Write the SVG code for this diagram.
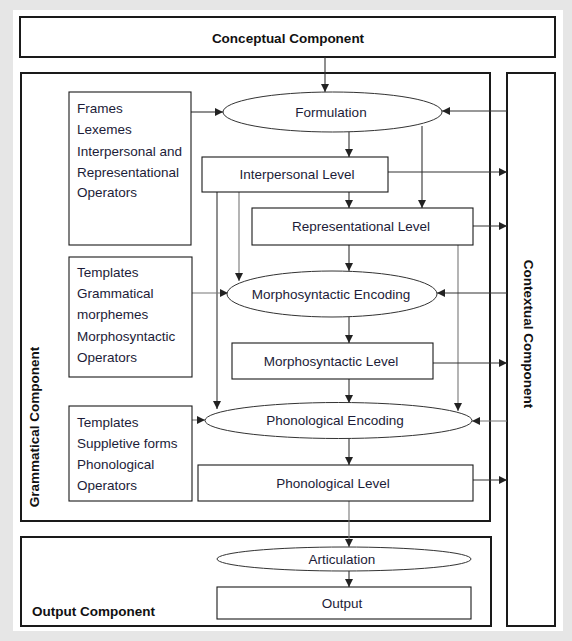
<svg xmlns="http://www.w3.org/2000/svg" width="572" height="641" viewBox="0 0 572 641">
<style>
.bg{fill:#e6e6e6}
.outer{fill:none;stroke:#1a1a1a;stroke-width:2}
.box{fill:#fff;stroke:#1a1a1a;stroke-width:1.1}
.ell{fill:#fff;stroke:#333;stroke-width:1}
.t{font-family:"Liberation Sans",Arial,sans-serif;font-size:13.5px;fill:#1c1c38}
.c{text-anchor:middle}
.b{font-family:"Liberation Sans",Arial,sans-serif;font-size:13.5px;font-weight:bold;fill:#111}
.conn{fill:none;stroke:#333;stroke-width:1.1}
.conn2{fill:none;stroke:#777;stroke-width:1.1}
</style>
<defs>
<marker id="ah" viewBox="0 0 10 10" refX="10" refY="5" markerWidth="9" markerHeight="8" markerUnits="userSpaceOnUse" orient="auto">
<path d="M0,0 L10,5 L0,10 z" fill="#222"/>
</marker>
</defs>
<rect class="bg" x="0" y="0" width="572" height="641"/>
<rect x="13" y="10" width="550" height="621" fill="#fff"/>

<g id="conceptual">
<rect class="outer" x="20" y="17" width="535" height="40"/>
<text class="b c" x="288" y="43">Conceptual Component</text>
</g>
<g id="grammatical">
<rect class="outer" x="21" y="73" width="469" height="448"/>
<text class="b c" transform="translate(39,427) rotate(-90)">Grammatical Component</text>
</g>
<g id="contextual">
<rect class="outer" x="507" y="73" width="48" height="553"/>
<text class="b c" transform="translate(524,334) rotate(90)">Contextual Component</text>
</g>
<g id="output-component">
<rect class="outer" x="21" y="537" width="470" height="89"/>
<text class="b" x="32" y="616">Output Component</text>
</g>

<g id="connectors">
<line class="conn" x1="325" y1="57" x2="325" y2="92" marker-end="url(#ah)"/>
<line class="conn" x1="191" y1="112" x2="223" y2="112" marker-end="url(#ah)"/>
<line class="conn" x1="507" y1="111" x2="442" y2="111" marker-end="url(#ah)"/>
<line class="conn" x1="349" y1="132" x2="349" y2="157" marker-end="url(#ah)"/>
<line class="conn" x1="422" y1="126" x2="422" y2="208" marker-end="url(#ah)"/>
<line class="conn" x1="388" y1="172" x2="507" y2="172" marker-end="url(#ah)"/>
<line class="conn" x1="349" y1="192" x2="349" y2="208" marker-end="url(#ah)"/>
<line class="conn" x1="473" y1="226" x2="507" y2="226" marker-end="url(#ah)"/>
<line class="conn" x1="217" y1="192" x2="217" y2="409" marker-end="url(#ah)"/>
<line class="conn2" x1="239" y1="192" x2="239" y2="281" marker-end="url(#ah)"/>
<line class="conn" x1="349" y1="245" x2="349" y2="271" marker-end="url(#ah)"/>
<line class="conn2" x1="458" y1="245" x2="458" y2="411" marker-end="url(#ah)"/>
<line class="conn2" x1="192" y1="293" x2="228" y2="293" marker-end="url(#ah)"/>
<line class="conn" x1="507" y1="293" x2="437" y2="293" marker-end="url(#ah)"/>
<line class="conn" x1="349" y1="317" x2="349" y2="343" marker-end="url(#ah)"/>
<line class="conn" x1="433" y1="363" x2="507" y2="363" marker-end="url(#ah)"/>
<line class="conn" x1="349" y1="379" x2="349" y2="403" marker-end="url(#ah)"/>
<line class="conn2" x1="192" y1="420" x2="205" y2="420" marker-end="url(#ah)"/>
<line class="conn2" x1="507" y1="421" x2="472" y2="421" marker-end="url(#ah)"/>
<line class="conn" x1="349" y1="438" x2="349" y2="465" marker-end="url(#ah)"/>
<line class="conn" x1="473" y1="480" x2="507" y2="480" marker-end="url(#ah)"/>
<line class="conn2" x1="349" y1="501" x2="349" y2="547" marker-end="url(#ah)"/>
<line class="conn" x1="349" y1="571" x2="349" y2="587" marker-end="url(#ah)"/>
</g>

<g id="frames">
<rect class="box" x="69" y="92" width="122" height="153"/>
<text class="t" x="77" y="113">Frames</text>
<text class="t" x="77" y="134">Lexemes</text>
<text class="t" x="77" y="156">Interpersonal and</text>
<text class="t" x="77" y="177">Representational</text>
<text class="t" x="77" y="197">Operators</text>
</g>
<g id="formulation">
<ellipse class="ell" cx="332.5" cy="112" rx="109.5" ry="20"/>
<text class="t c" x="331" y="117">Formulation</text>
</g>
<g id="interpersonal-level">
<rect class="box" x="202" y="157" width="186" height="35"/>
<text class="t c" x="297" y="179">Interpersonal Level</text>
</g>
<g id="representational-level">
<rect class="box" x="252" y="208" width="221" height="37"/>
<text class="t c" x="361" y="231">Representational Level</text>
</g>
<g id="templates-morpho">
<rect class="box" x="69" y="257" width="123" height="120"/>
<text class="t" x="77" y="277">Templates</text>
<text class="t" x="77" y="298">Grammatical</text>
<text class="t" x="77" y="319">morphemes</text>
<text class="t" x="77" y="341">Morphosyntactic</text>
<text class="t" x="77" y="362">Operators</text>
</g>
<g id="morphosyntactic-encoding">
<ellipse class="ell" cx="332" cy="294" rx="105" ry="23"/>
<text class="t c" x="331" y="299">Morphosyntactic Encoding</text>
</g>
<g id="morphosyntactic-level">
<rect class="box" x="232" y="343" width="201" height="36"/>
<text class="t c" x="331" y="366">Morphosyntactic Level</text>
</g>
<g id="templates-phono">
<rect class="box" x="69" y="406" width="123" height="95"/>
<text class="t" x="77" y="427">Templates</text>
<text class="t" x="77" y="448">Suppletive forms</text>
<text class="t" x="77" y="469">Phonological</text>
<text class="t" x="77" y="490">Operators</text>
</g>
<g id="phonological-encoding">
<ellipse class="ell" cx="338.5" cy="420.5" rx="133.5" ry="18"/>
<text class="t c" x="335" y="425">Phonological Encoding</text>
</g>
<g id="phonological-level">
<rect class="box" x="198" y="465" width="275" height="36"/>
<text class="t c" x="333" y="488">Phonological Level</text>
</g>
<g id="articulation">
<ellipse class="ell" cx="344" cy="559" rx="127" ry="12"/>
<text class="t c" x="342" y="564">Articulation</text>
</g>
<g id="output">
<rect class="box" x="217" y="587" width="254" height="32"/>
<text class="t c" x="342" y="608">Output</text>
</g>
</svg>
